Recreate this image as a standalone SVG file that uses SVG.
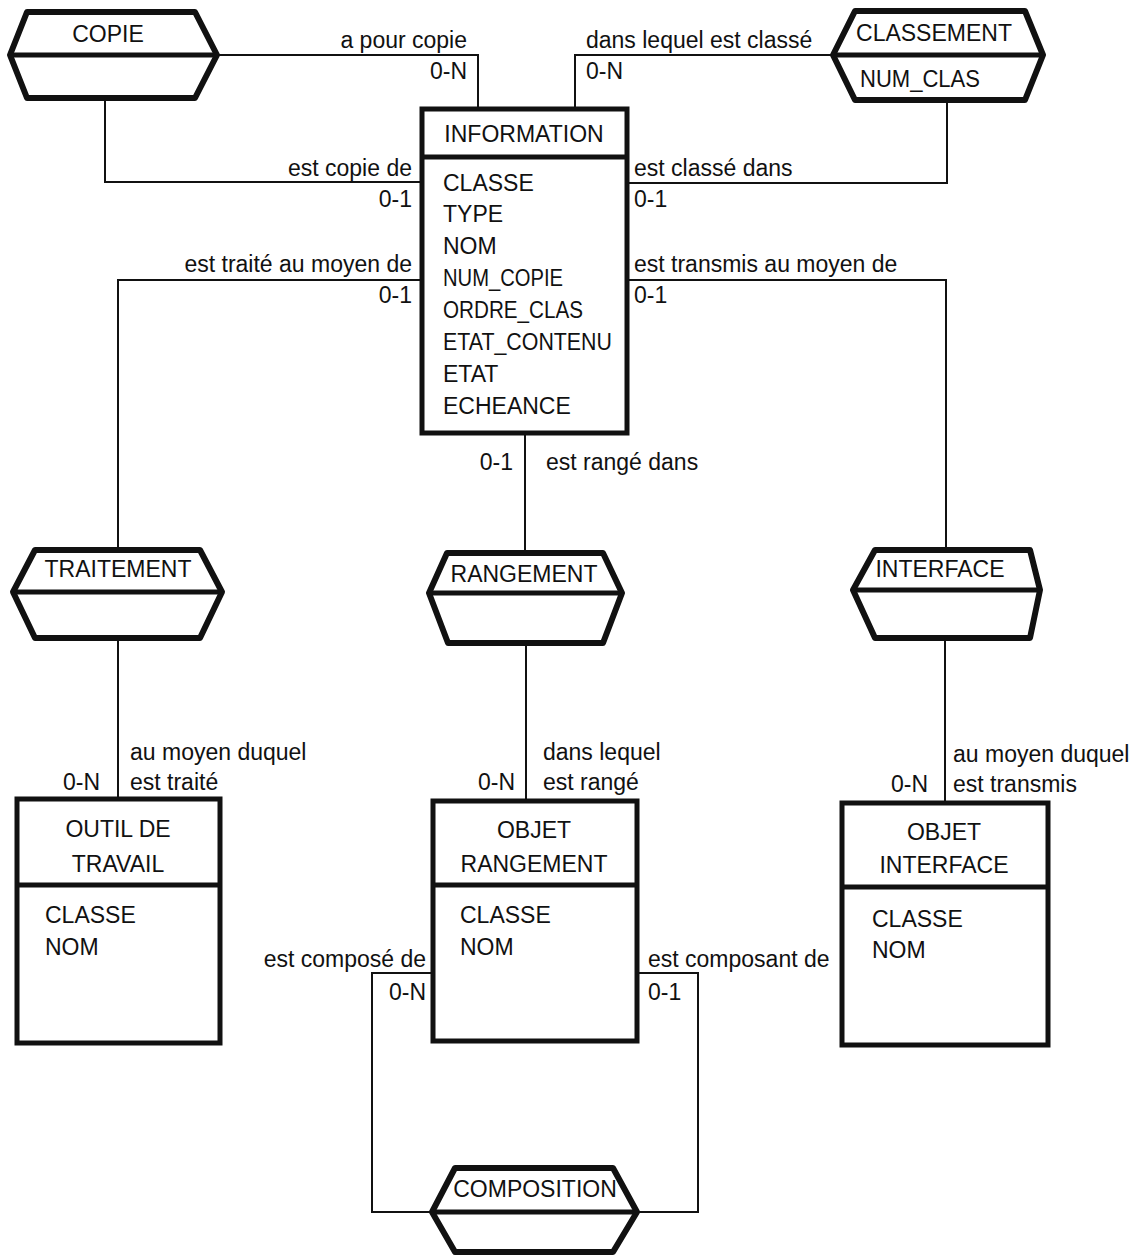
<svg xmlns="http://www.w3.org/2000/svg" width="1137" height="1257" viewBox="0 0 1137 1257">
<style>
text{font-family:"Liberation Sans",Arial,sans-serif;font-size:23px;fill:#111}
.hex{fill:#fff;stroke:#111;stroke-width:6;stroke-linejoin:round}
.div{stroke:#111;stroke-width:5;fill:none}
.box{fill:#fff;stroke:#111;stroke-width:5}
.c{fill:none;stroke:#111;stroke-width:2}
.m{text-anchor:middle}
.e{text-anchor:end}
</style>
<rect width="1137" height="1257" fill="#fff"/>
<g id="connectors">
<path class="c" d="M217,55 H478 V109"/>
<path class="c" d="M575,109 V55 H833"/>
<path class="c" d="M105,98 V182 H422"/>
<path class="c" d="M627,183 H947 V100"/>
<path class="c" d="M422,280 H118 V550"/>
<path class="c" d="M627,280 H946 V550"/>
<path class="c" d="M525,433 V553"/>
<path class="c" d="M118,638 V799"/>
<path class="c" d="M526,643 V801"/>
<path class="c" d="M945,638 V803"/>
<path class="c" d="M433,973 H372 V1212 H432"/>
<path class="c" d="M637,973 H698 V1212 H637"/>
<text class="e" x="467" y="48">a pour copie</text>
<text class="e" x="467" y="79">0-N</text>
<text x="586" y="48">dans lequel est classé</text>
<text x="586" y="79">0-N</text>
<text class="e" x="412" y="176">est copie de</text>
<text class="e" x="412" y="207">0-1</text>
<text x="634" y="176">est classé dans</text>
<text x="634" y="207">0-1</text>
<text class="e" x="412" y="272">est traité au moyen de</text>
<text class="e" x="412" y="303">0-1</text>
<text x="634" y="272">est transmis au moyen de</text>
<text x="634" y="303">0-1</text>
<text class="e" x="513" y="470">0-1</text>
<text x="546" y="470">est rangé dans</text>
<text x="130" y="760">au moyen duquel</text>
<text x="130" y="790">est traité</text>
<text class="e" x="100" y="790">0-N</text>
<text x="543" y="760">dans lequel</text>
<text x="543" y="790">est rangé</text>
<text class="e" x="515" y="790">0-N</text>
<text x="953" y="762">au moyen duquel</text>
<text x="953" y="792">est transmis</text>
<text class="e" x="928" y="792">0-N</text>
<text class="e" x="426" y="967">est composé de</text>
<text class="e" x="426" y="1000">0-N</text>
<text x="648" y="967">est composant de</text>
<text x="648" y="1000">0-1</text>
</g>
<g id="COPIE">
<path class="hex" d="M27,12 L195,12 L217,55 L195,98 L27,98 L10,55 Z"/>
<path class="div" d="M10,55 H217"/>
<text class="m" x="108" y="42">COPIE</text>
</g>
<g id="CLASSEMENT">
<path class="hex" d="M855,11 L1025,11 L1043,55 L1025,100 L855,100 L833,55 Z"/>
<path class="div" d="M833,55 H1043"/>
<text class="m" x="934" y="41">CLASSEMENT</text>
<text x="860" y="87" textLength="120" lengthAdjust="spacingAndGlyphs">NUM_CLAS</text>
</g>
<g id="INFORMATION">
<rect class="box" x="422" y="109" width="205" height="324"/>
<path class="div" d="M422,157 H627"/>
<text class="m" x="524" y="142">INFORMATION</text>
<text x="443" y="191">CLASSE</text>
<text x="443" y="222">TYPE</text>
<text x="443" y="254">NOM</text>
<text x="443" y="286" textLength="120" lengthAdjust="spacingAndGlyphs">NUM_COPIE</text>
<text x="443" y="318" textLength="140" lengthAdjust="spacingAndGlyphs">ORDRE_CLAS</text>
<text x="443" y="350" textLength="169" lengthAdjust="spacingAndGlyphs">ETAT_CONTENU</text>
<text x="443" y="382">ETAT</text>
<text x="443" y="414">ECHEANCE</text>
</g>
<g id="TRAITEMENT">
<path class="hex" d="M35,550 L200,550 L222,592 L200,638 L35,638 L13,592 Z"/>
<path class="div" d="M13,592 H222"/>
<text class="m" x="118" y="577">TRAITEMENT</text>
</g>
<g id="RANGEMENT">
<path class="hex" d="M447,553 L603,553 L622,593 L603,643 L448,643 L429,593 Z"/>
<path class="div" d="M429,593 H622"/>
<text class="m" x="524" y="582">RANGEMENT</text>
</g>
<g id="INTERFACE">
<path class="hex" d="M875,550 L1030,550 L1040,590 L1030,638 L875,638 L853,590 Z"/>
<path class="div" d="M853,590 H1040"/>
<text class="m" x="940" y="577">INTERFACE</text>
</g>
<g id="OUTIL_DE_TRAVAIL">
<rect class="box" x="17" y="799" width="203" height="244"/>
<path class="div" d="M17,885 H220"/>
<text class="m" x="118" y="837">OUTIL DE</text>
<text class="m" x="118" y="872">TRAVAIL</text>
<text x="45" y="923">CLASSE</text>
<text x="45" y="955">NOM</text>
</g>
<g id="OBJET_RANGEMENT">
<rect class="box" x="433" y="801" width="204" height="240"/>
<path class="div" d="M433,885 H637"/>
<text class="m" x="534" y="838">OBJET</text>
<text class="m" x="534" y="872">RANGEMENT</text>
<text x="460" y="923">CLASSE</text>
<text x="460" y="955">NOM</text>
</g>
<g id="OBJET_INTERFACE">
<rect class="box" x="842" y="803" width="206" height="242"/>
<path class="div" d="M842,887 H1048"/>
<text class="m" x="944" y="840">OBJET</text>
<text class="m" x="944" y="873">INTERFACE</text>
<text x="872" y="927">CLASSE</text>
<text x="872" y="958">NOM</text>
</g>
<g id="COMPOSITION">
<path class="hex" d="M455,1168 L613,1168 L637,1212 L613,1252 L455,1252 L432,1212 Z"/>
<path class="div" d="M432,1212 H637"/>
<text class="m" x="535" y="1197">COMPOSITION</text>
</g>
</svg>
